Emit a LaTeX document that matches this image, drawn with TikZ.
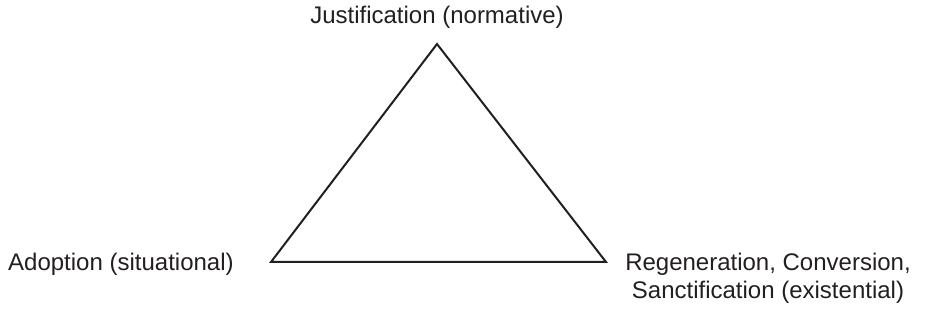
\documentclass[tikz,border=0pt]{standalone}
\usepackage{fontspec}
\setmainfont{Liberation Sans}
\definecolor{ink}{HTML}{231F20}
\begin{document}
\begin{tikzpicture}[x=1pt,y=1pt,
  lbl/.style={inner sep=0pt,text=ink,font=\fontsize{24}{28}\selectfont},
  edge/.style={draw=ink,line width=2pt,line join=miter}]
\useasboundingbox (0,0) rectangle (925,331);
\coordinate (top) at (437,287);
\coordinate (bl) at (271,69);
\coordinate (br) at (606,69);
\draw[edge] (top) -- (bl) -- (br) -- cycle;
\node[lbl,anchor=base] (just) at (437,307) {Justification (normative)};
\node[lbl,anchor=base west] (adop) at (8,60.5) {Adoption (situational)};
\node[lbl,anchor=base,align=center] (regen) at (768,32.5) {Regeneration, Conversion,\\Sanctification (existential)};
\end{tikzpicture}
\end{document}
